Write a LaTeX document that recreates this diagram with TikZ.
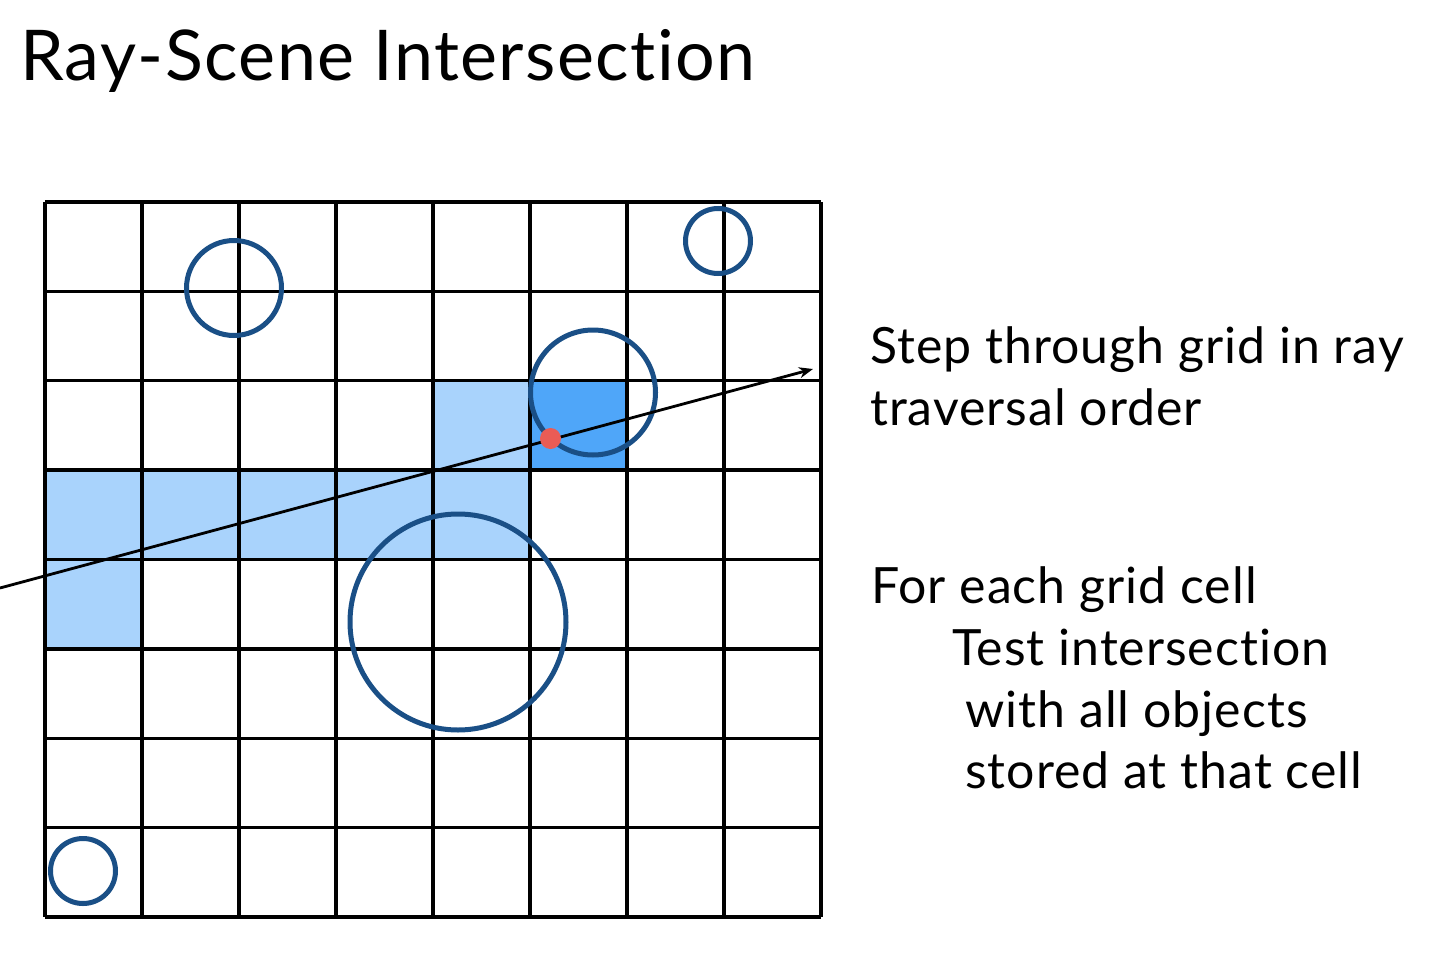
\documentclass[tikz,border=0pt]{standalone}
\usepackage{fontspec}
\setmainfont{Lato}[Ligatures=NoCommon, LetterSpace=2]
\usepackage{tikz}
\usetikzlibrary{arrows.meta,positioning}
\definecolor{CellLight}{HTML}{A9D3FC}
\definecolor{CellHit}{HTML}{4FA6F9}
\definecolor{ObjBlue}{HTML}{1A4F86}
\definecolor{HitRed}{HTML}{EA5C55}

\begin{document}
\begin{tikzpicture}[x=1pt, y=-1pt,
  gridline/.style={black, line width=3.4pt},
  obj/.style={draw=ObjBlue, line width=5pt},
  txt/.style={anchor=base west, inner sep=0pt, font=\fontsize{50}{62}\selectfont},
  ray/.style={-{Stealth[length=14pt, width=11pt]}, black, line width=2.8pt}]
  \useasboundingbox (0,0) rectangle (1436,964);
  \node[anchor=base west, inner sep=0pt, font=\fontsize{70}{80}\selectfont] (title) at (20,80) {Ray-Scene Intersection};

  \fill[CellLight] (433,381) rectangle (530,471);
  \fill[CellLight] (45,471) rectangle (530,560);
  \fill[CellLight] (45,560) rectangle (142,650);
  \fill[CellHit] (530,381) rectangle (627,471);

  \foreach \i in {0,...,8} {
    \draw[gridline] ({45+97*\i},202) -- ({45+97*\i},917);
    \draw[gridline] (45,{202+89.375*\i}) -- (821,{202+89.375*\i});
  }

  \draw[obj] (234,288) circle[radius=47.5pt];
  \draw[obj] (718,241) circle[radius=32.5pt];
  \draw[obj] (593,392.5) circle[radius=62.5pt];
  \draw[obj] (458,622) circle[radius=108pt];
  \draw[obj] (83,871) circle[radius=32.5pt];

  \coordinate (rs) at (0,588);
  \coordinate (re) at (813,369);
  \draw[ray] (rs) -- (re);
  \node[circle, fill=HitRed, minimum size=21pt, inner sep=0pt] (hit) at (550.5,438.5) {};

  \node[txt] (step1) at (870,363) {Step through grid in ray};
  \node[txt] (step2) at (870,425) {traversal order};
  \node[txt] (each1) at (871,603) {For each grid cell};
  \node[txt] (each2) at (952,665) {Test intersection};
  \node[txt] (each3) at (965,727) {with all objects};
  \node[txt] (each4) at (965,788) {stored at that cell};
\end{tikzpicture}
\end{document}
